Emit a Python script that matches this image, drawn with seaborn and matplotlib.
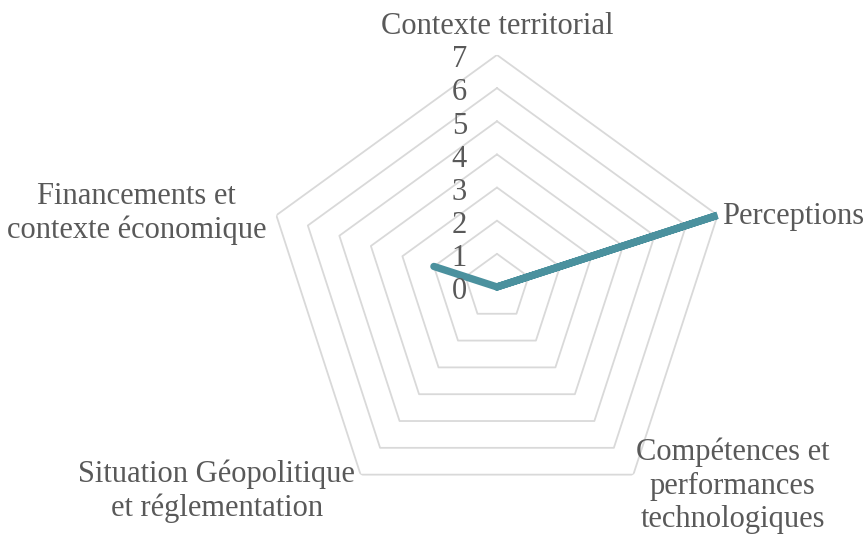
import numpy as np
import pandas as pd
import matplotlib
matplotlib.use("Agg")
import matplotlib.pyplot as plt
import seaborn as sns

# données du radar
categories = [
    "Contexte territorial",
    "Perceptions",
    "Compétences et\nperformances\ntechnologiques",
    "Situation Géopolitique\net réglementation",
    "Financements et\ncontexte économique",
]
scores = [0, 7, 0, 0, 2]
levels = [0, 1, 2, 3, 4, 5, 6, 7]

sns.set_theme(style="white")
plt.rcParams["font.family"] = ["Liberation Serif", "DejaVu Serif"]

text_color = "#595959"
grid_color = "#D9D9D9"
line_color = "#4B919E"

n = len(categories)
angles = np.linspace(0, 2 * np.pi, n, endpoint=False)

df = pd.DataFrame({
    "angle": np.append(angles, angles[0]),
    "score": scores + [scores[0]],
})

fig = plt.figure(figsize=(8.67, 5.35), dpi=100)
ax = fig.add_axes([0.3056, 0.0300, 0.5352, 0.8673], projection="polar")
ax.set_theta_offset(np.pi / 2)
ax.set_theta_direction(-1)
ax.set_ylim(0, max(levels))
ax.grid(False)
ax.spines["polar"].set_visible(False)
ax.set_xticks([])
ax.set_yticks([])

# grille pentagonale
closed = np.append(angles, angles[0])
for lv in levels[1:]:
    ax.plot(closed, [lv] * (n + 1), color=grid_color, lw=1.3, zorder=1)

sns.lineplot(data=df, x="angle", y="score", sort=False, ax=ax,
             color=line_color, lw=5.3, legend=False, zorder=3)
ax.set_xlabel("")
ax.set_ylabel("")

# étiquettes de l'échelle
for lv in levels:
    ax.annotate(str(lv), xy=(0, lv), xytext=(-21.5, -1), textcoords="offset points",
                ha="right", va="center_baseline", fontsize=22, color=text_color)

# étiquettes des catégories
label_pos = [
    ((0, 10), "center", "bottom"),
    ((3, -1), "left", "center"),
    ((2, -8), "left", "center"),
    ((-4, 11), "right", "top"),
    ((-7, 1), "right", "center"),
]
for ang, cat, (off, ha, va) in zip(angles, categories, label_pos):
    ax.annotate(cat, xy=(ang, max(levels)), xytext=off, textcoords="offset points",
                ha=ha, va=va, multialignment="center", fontsize=22,
                color=text_color, linespacing=1.2, annotation_clip=False)

fig.savefig("out.png", dpi=100)
